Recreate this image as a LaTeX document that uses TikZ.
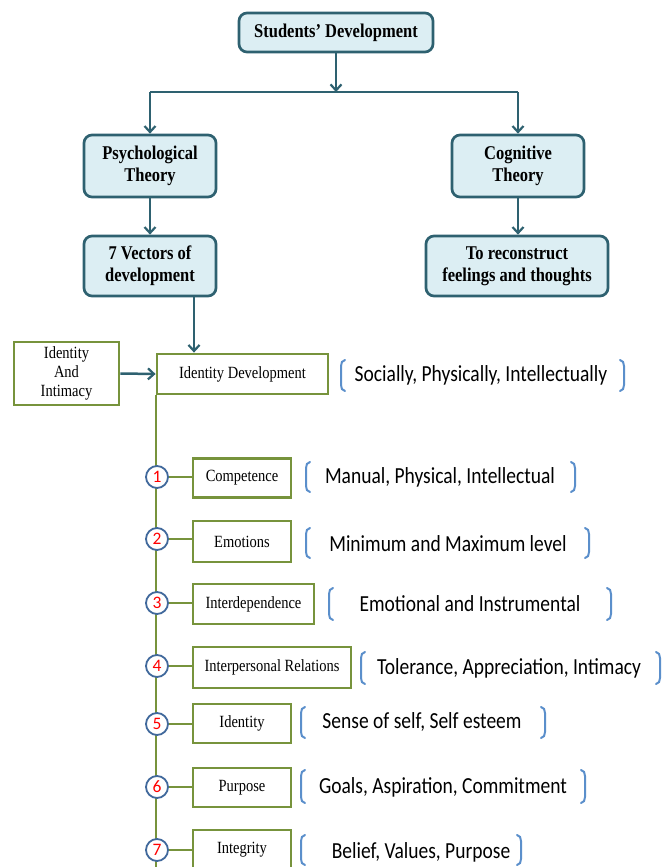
\documentclass[tikz,border=0pt]{standalone}
\usepackage{fontspec}
\usepackage{graphicx}
\setmainfont{Liberation Serif}
\newfontfamily\carl{Carlito}
\usetikzlibrary{arrows.meta,calc}
\definecolor{tealbd}{HTML}{2E6170}
\definecolor{tealfill}{HTML}{DCEEF3}
\definecolor{oliv}{HTML}{77933C}
\definecolor{brk}{HTML}{5B8FCB}
\definecolor{cbd}{HTML}{41699C}
\newcommand\vs[1]{\raisebox{-1.6pt}{\scalebox{1}[1.18]{#1}}}
\newcommand\brkpair[4]{%
  \draw[brkline] (#1+4,#3) to[out=180,in=90] (#1,#3+6) -- (#1,#4-6) to[out=-90,in=180] (#1+4,#4);
  \draw[brkline] (#2-4,#3) to[out=0,in=90] (#2,#3+6) -- (#2,#4-6) to[out=-90,in=0] (#2-4,#4);
}
\begin{document}
\begin{tikzpicture}[x=1pt,y=-1pt,
  topbox/.style={draw=tealbd,line width=2.7pt,fill=tealfill,rounded corners=8pt,
    align=center,font=\fontsize{16.5}{22}\selectfont\bfseries,inner sep=0pt},
  gbox/.style={draw=oliv,line width=2.8pt,fill=white,align=center,
    font=\fontsize{14.5}{19}\selectfont,inner sep=0pt,minimum height=39pt},
  conn/.style={draw=tealbd,line width=2.5pt},
  arr/.style={conn,-{Straight Barb[length=6pt,width=11pt,line width=2.2pt]}},
  spine/.style={draw=oliv,line width=1.8pt},
  num/.style={circle,draw=cbd,line width=1.8pt,fill=white,minimum size=22pt,inner sep=0pt,
    text=red,font=\carl\fontsize{17.5}{17}\selectfont},
  btext/.style={font=\carl\fontsize{19.5}{22}\selectfont,inner sep=0pt},
  brkline/.style={draw=brk,line width=2pt,line cap=round}
]
\useasboundingbox (0,0) rectangle (663,867);

% top part
\node[topbox,minimum width=194pt,minimum height=39pt] (top) at (336,32.5) {\vs{Students’ Development}};
\node[topbox,minimum width=132pt,minimum height=62pt] (psy) at (150,166) {\vs{Psychological}\\\vs{Theory}};
\node[topbox,minimum width=132pt,minimum height=62pt] (cog) at (518,166) {\vs{Cognitive}\\\vs{Theory}};
\node[topbox,minimum width=132pt,minimum height=60pt] (vec) at (150,266) {\vs{7 Vectors of}\\\vs{development}};
\node[topbox,minimum width=182pt,minimum height=60pt] (rec) at (517,266) {\vs{To reconstruct}\\\vs{feelings and thoughts}};

\coordinate (j) at (336,92);
\coordinate (jl) at (psy.north |- j);
\coordinate (jr) at (cog.north |- j);
\draw[arr] (top) -- (j);
\draw[conn] (jl) -- (jr);
\draw[arr] (jl) -- (psy);
\draw[arr] (jr) -- (cog);
\draw[arr] (psy) -- (vec);
\draw[arr] (cog.south) -- (cog.south |- rec.north);

% identity development
\node[gbox,minimum width=171pt,minimum height=40pt] (iddev) at (242.5,374) {\vs{Identity Development}};
\node[gbox,minimum width=105pt,minimum height=63pt] (idint) at (66.5,373.5) {\vs{Identity}\\\vs{And}\\\vs{Intimacy}};
\draw[arr] ([xshift=44pt]vec.south) -- ([xshift=44pt]vec.south |- iddev.north);
\draw[arr] (idint.east) -- (iddev.west);

\coordinate (spend) at (iddev.south west |- 0,875);
\draw[spine] (iddev.south west) -- (spend);

% vectors
\node[num] (c1) at (157,477) {1};
\node[num] (c2) at (157,539) {2};
\node[num] (c3) at (157,603) {3};
\node[num] (c4) at (157,666) {4};
\node[num] (c5) at (157,724) {5};
\node[num] (c6) at (157,787) {6};
\node[num] (c7) at (157,850) {7};

\node[gbox,minimum width=98pt] (v1) at (242,478) {\vs{Competence}};
\node[gbox,minimum width=98pt,minimum height=41pt] (v2) at (242,541.5) {\vs{Emotions}};
\node[gbox,minimum width=121pt,minimum height=40pt] (v3) at (253.5,604) {\vs{Interdependence}};
\node[gbox,minimum width=158pt,minimum height=41pt] (v4) at (272,667.5) {\vs{Interpersonal Relations}};
\node[gbox,minimum width=98pt] (v5) at (242,723.5) {\vs{Identity}};
\node[gbox,minimum width=98pt] (v6) at (242,787.5) {\vs{Purpose}};
\node[gbox,minimum width=98pt,minimum height=40pt] (v7) at (242,850) {\vs{Integrity}};

\foreach \i in {1,...,7}{\draw[spine] (c\i) -- (c\i -| v\i.west);}

% bracket texts
\node[btext] (t0) at (481,375) {\vs{Socially, Physically, Intellectually}};
\brkpair{341}{624}{360}{391}
\node[btext] (t1) at (440,477) {\vs{Manual, Physical, Intellectual}};
\brkpair{306}{575}{462}{492}
\node[btext] (t2) at (448,544) {\vs{Minimum and Maximum level}};
\brkpair{306}{589}{528}{558}
\node[btext] (t3) at (470,604) {\vs{Emotional and Instrumental}};
\brkpair{329}{611}{588}{620}
\node[btext] (t4) at (509,668) {\vs{Tolerance, Appreciation, Intimacy}};
\brkpair{361}{660}{652}{684}
\node[btext] (t5) at (422,722) {\vs{Sense of self, Self esteem}};
\brkpair{301}{545}{707}{738}
\node[btext] (t6) at (443,787) {\vs{Goals, Aspiration, Commitment}};
\brkpair{301}{585}{770}{803}
\node[btext] (t7) at (421,852) {\vs{Belief, Values, Purpose}};
\brkpair{301}{521}{835}{865}
\end{tikzpicture}
\end{document}
